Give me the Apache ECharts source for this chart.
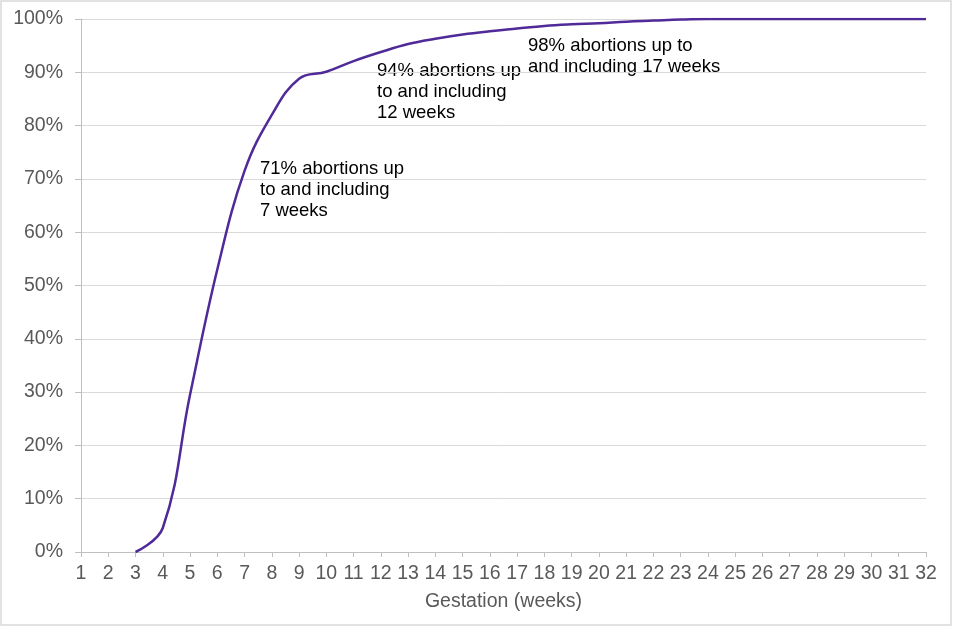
<!DOCTYPE html>
<html>
<head>
<meta charset="utf-8">
<script src="https://cdn.jsdelivr.net/npm/echarts@6/dist/echarts.min.js"></script>
<style>html,body{margin:0;padding:0;background:#fff;}#chart{width:960px;height:640px;}</style>
</head>
<body>
<div id="chart"></div>
<script>
const weeks = [1,2,3,4,5,6,7,8,9,10,11,12,13,14,15,16,17,18,19,20,21,22,23,24,25,26,27,28,29,30,31,32];
const cumulativePct = [null,null,0,4.5,29.5,53,71.5,82,88.8,90.1,92.1,93.8,95.3,96.3,97.1,97.7,98.2,98.7,99.0,99.2,99.5,99.7,99.9,100,100,100,100,100,100,100,100,100];
const yTicks = [0,10,20,30,40,50,60,70,80,90,100];
const annotations = [
  {text: '71% abortions up\nto and including\n7 weeks', left: 260, top: 158},
  {text: '94% abortions up\nto and including\n12 weeks', left: 377, top: 60},
  {text: '98% abortions up to\nand including 17 weeks', left: 528, top: 35}
];
const xTitle = 'Gestation (weeks)';

const chart = echarts.init(document.getElementById('chart'));
const font = '"Liberation Sans", Arial, sans-serif';
chart.setOption({
  animation: false,
  backgroundColor: '#fff',
  grid: {left: 81, right: 34, top: 19, bottom: 88, containLabel: false},
  xAxis: {
    type: 'value', min: weeks[0], max: weeks[weeks.length-1], interval: 1,
    name: xTitle, nameLocation: 'middle', nameGap: 40,
    nameTextStyle: {color: '#595959', fontSize: 19.5, fontFamily: font},
    axisLine: {show: true, lineStyle: {color: '#bfbfbf', width: 1}},
    axisTick: {show: true, length: 5, lineStyle: {color: '#bfbfbf'}},
    axisLabel: {color: '#595959', fontSize: 19.5, fontFamily: font, margin: 12, showMinLabel: true, showMaxLabel: true},
    splitLine: {show: false}
  },
  yAxis: {
    type: 'value', min: yTicks[0], max: yTicks[yTicks.length-1], interval: 10,
    axisLine: {show: true, lineStyle: {color: '#bfbfbf', width: 1}},
    axisTick: {show: true, length: 6, lineStyle: {color: '#bfbfbf'}},
    axisLabel: {color: '#595959', fontSize: 19.5, fontFamily: font, margin: 18, formatter: v => v + '%'},
    splitLine: {show: true, lineStyle: {color: '#d9d9d9', width: 1}}
  },
  series: [{
    type: 'line',
    data: weeks.map((w, i) => [w, cumulativePct[i]]),
    smooth: 0.4,
    smoothConstraint: false,
    connectNulls: false,
    showSymbol: false,
    lineStyle: {color: '#4f2a98', width: 2.5},
    itemStyle: {color: '#4f2a98'}
  }],
  graphic: [
    {type: 'rect', shape: {x: 1, y: 1, width: 950, height: 624}, style: {fill: 'none', stroke: '#d9d9d9', lineWidth: 1.5}, silent: true},
    ...annotations.map(a => ({
      type: 'text', left: a.left, top: a.top,
      style: {text: a.text, fill: '#000', fontSize: 18.5, fontFamily: font, lineHeight: 21}
    }))
  ]
});
</script>
</body>
</html>
